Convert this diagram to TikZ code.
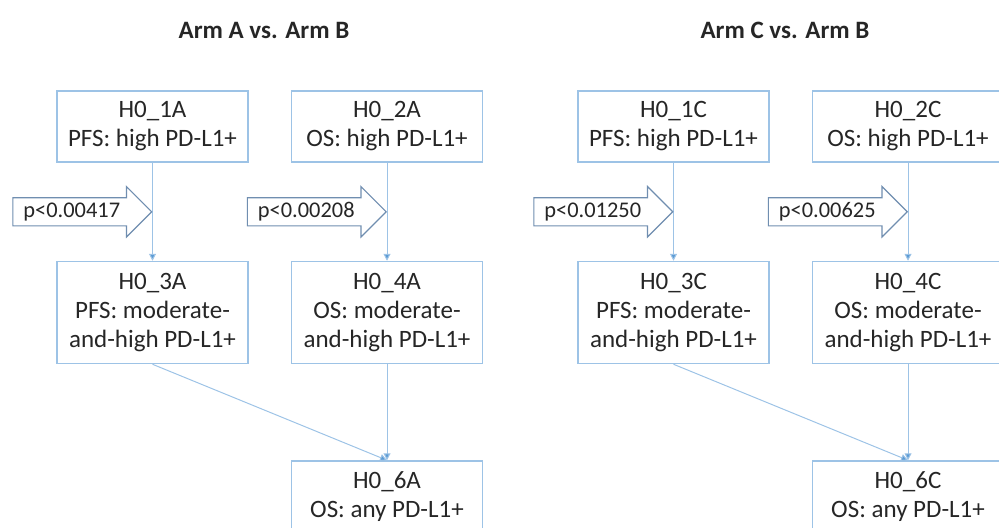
\documentclass[tikz,border=0pt]{standalone}
\usepackage{fontspec}
\setmainfont{Carlito}
\usepackage{tikz}
\usetikzlibrary{positioning, arrows.meta, shapes.arrows}

\definecolor{boxblue}{RGB}{157,195,230}
\definecolor{tipblue}{RGB}{91,155,213}
\definecolor{arrowgray}{RGB}{112,142,176}
\definecolor{textgray}{RGB}{38,38,38}

\begin{document}
\begin{tikzpicture}[x=0.5pt, y=-0.5pt, >={Triangle[length=3.5pt,width=3.5pt]},
	box/.style={draw=boxblue, line width=0.75pt, rectangle, minimum width=95.5pt, minimum height=35.5pt, align=center, text=textgray, font=\fontsize{12.5}{14.5}\selectfont, inner sep=0pt},
	tallbox/.style={box, minimum height=51pt},
	title/.style={text=textgray, font=\fontsize{12.5}{14.5}\selectfont\bfseries},
	flow/.style={draw=boxblue, line width=0.5pt, -{Triangle[length=3.5pt,width=3.5pt,fill=tipblue]}},
	pval/.style={single arrow, draw=arrowgray, line width=0.6pt, fill=white, text=textgray, font=\fontsize{11.2}{13}\selectfont, single arrow head extend=5.5pt, minimum width=0pt, minimum height=0pt, inner xsep=5pt, inner ysep=2pt, text width=51.75pt, text height=7.5pt, text depth=2pt, align=left}]
	
	\clip (0,0) rectangle (999,527);
	\useasboundingbox (0,0) rectangle (999,527);
	
	% Arm A vs. Arm B
	\node [title] (titleA) at (264,30) {Arm A vs. Arm B};
	\node [box] (h1A) at (152.5,126.5) {H0\_1A \\ PFS: high PD-L1+};
	\node [box, right=21pt of h1A] (h2A) {H0\_2A \\ OS: high PD-L1+};
	\node [tallbox, below=49pt of h1A] (h3A) {H0\_3A \\ PFS: moderate- \\ and-high PD-L1+};
	\node [tallbox, right=21pt of h3A] (h4A) {H0\_4A \\ OS: moderate- \\ and-high PD-L1+};
	\node [box, below=48pt of h4A] (h6A) {H0\_6A \\ OS: any PD-L1+};
	
	\draw[flow] (h1A) -- (h3A) node[midway, pval, anchor=tip] (pA1) {p<0.00417};
	\draw[flow] (h2A) -- (h4A) node[midway, pval, anchor=tip] (pA2) {p<0.00208};
	\draw[flow] (h3A.south) -- (h6A.north);
	\draw[flow] (h4A) -- (h6A);
	
	% Arm C vs. Arm B
	\node [title] (titleC) at (785,30) {Arm C vs. Arm B};
	\node [box] (h1C) at (673.5,126.5) {H0\_1C \\ PFS: high PD-L1+};
	\node [box, right=21pt of h1C] (h2C) {H0\_2C \\ OS: high PD-L1+};
	\node [tallbox, below=49pt of h1C] (h3C) {H0\_3C \\ PFS: moderate- \\ and-high PD-L1+};
	\node [tallbox, right=21pt of h3C] (h4C) {H0\_4C \\ OS: moderate- \\ and-high PD-L1+};
	\node [box, below=48pt of h4C] (h6C) {H0\_6C \\ OS: any PD-L1+};
	
	\draw[flow] (h1C) -- (h3C) node[midway, pval, anchor=tip] (pC1) {p<0.01250};
	\draw[flow] (h2C) -- (h4C) node[midway, pval, anchor=tip] (pC2) {p<0.00625};
	\draw[flow] (h3C.south) -- (h6C.north);
	\draw[flow] (h4C) -- (h6C);
	
\end{tikzpicture}
\end{document}
